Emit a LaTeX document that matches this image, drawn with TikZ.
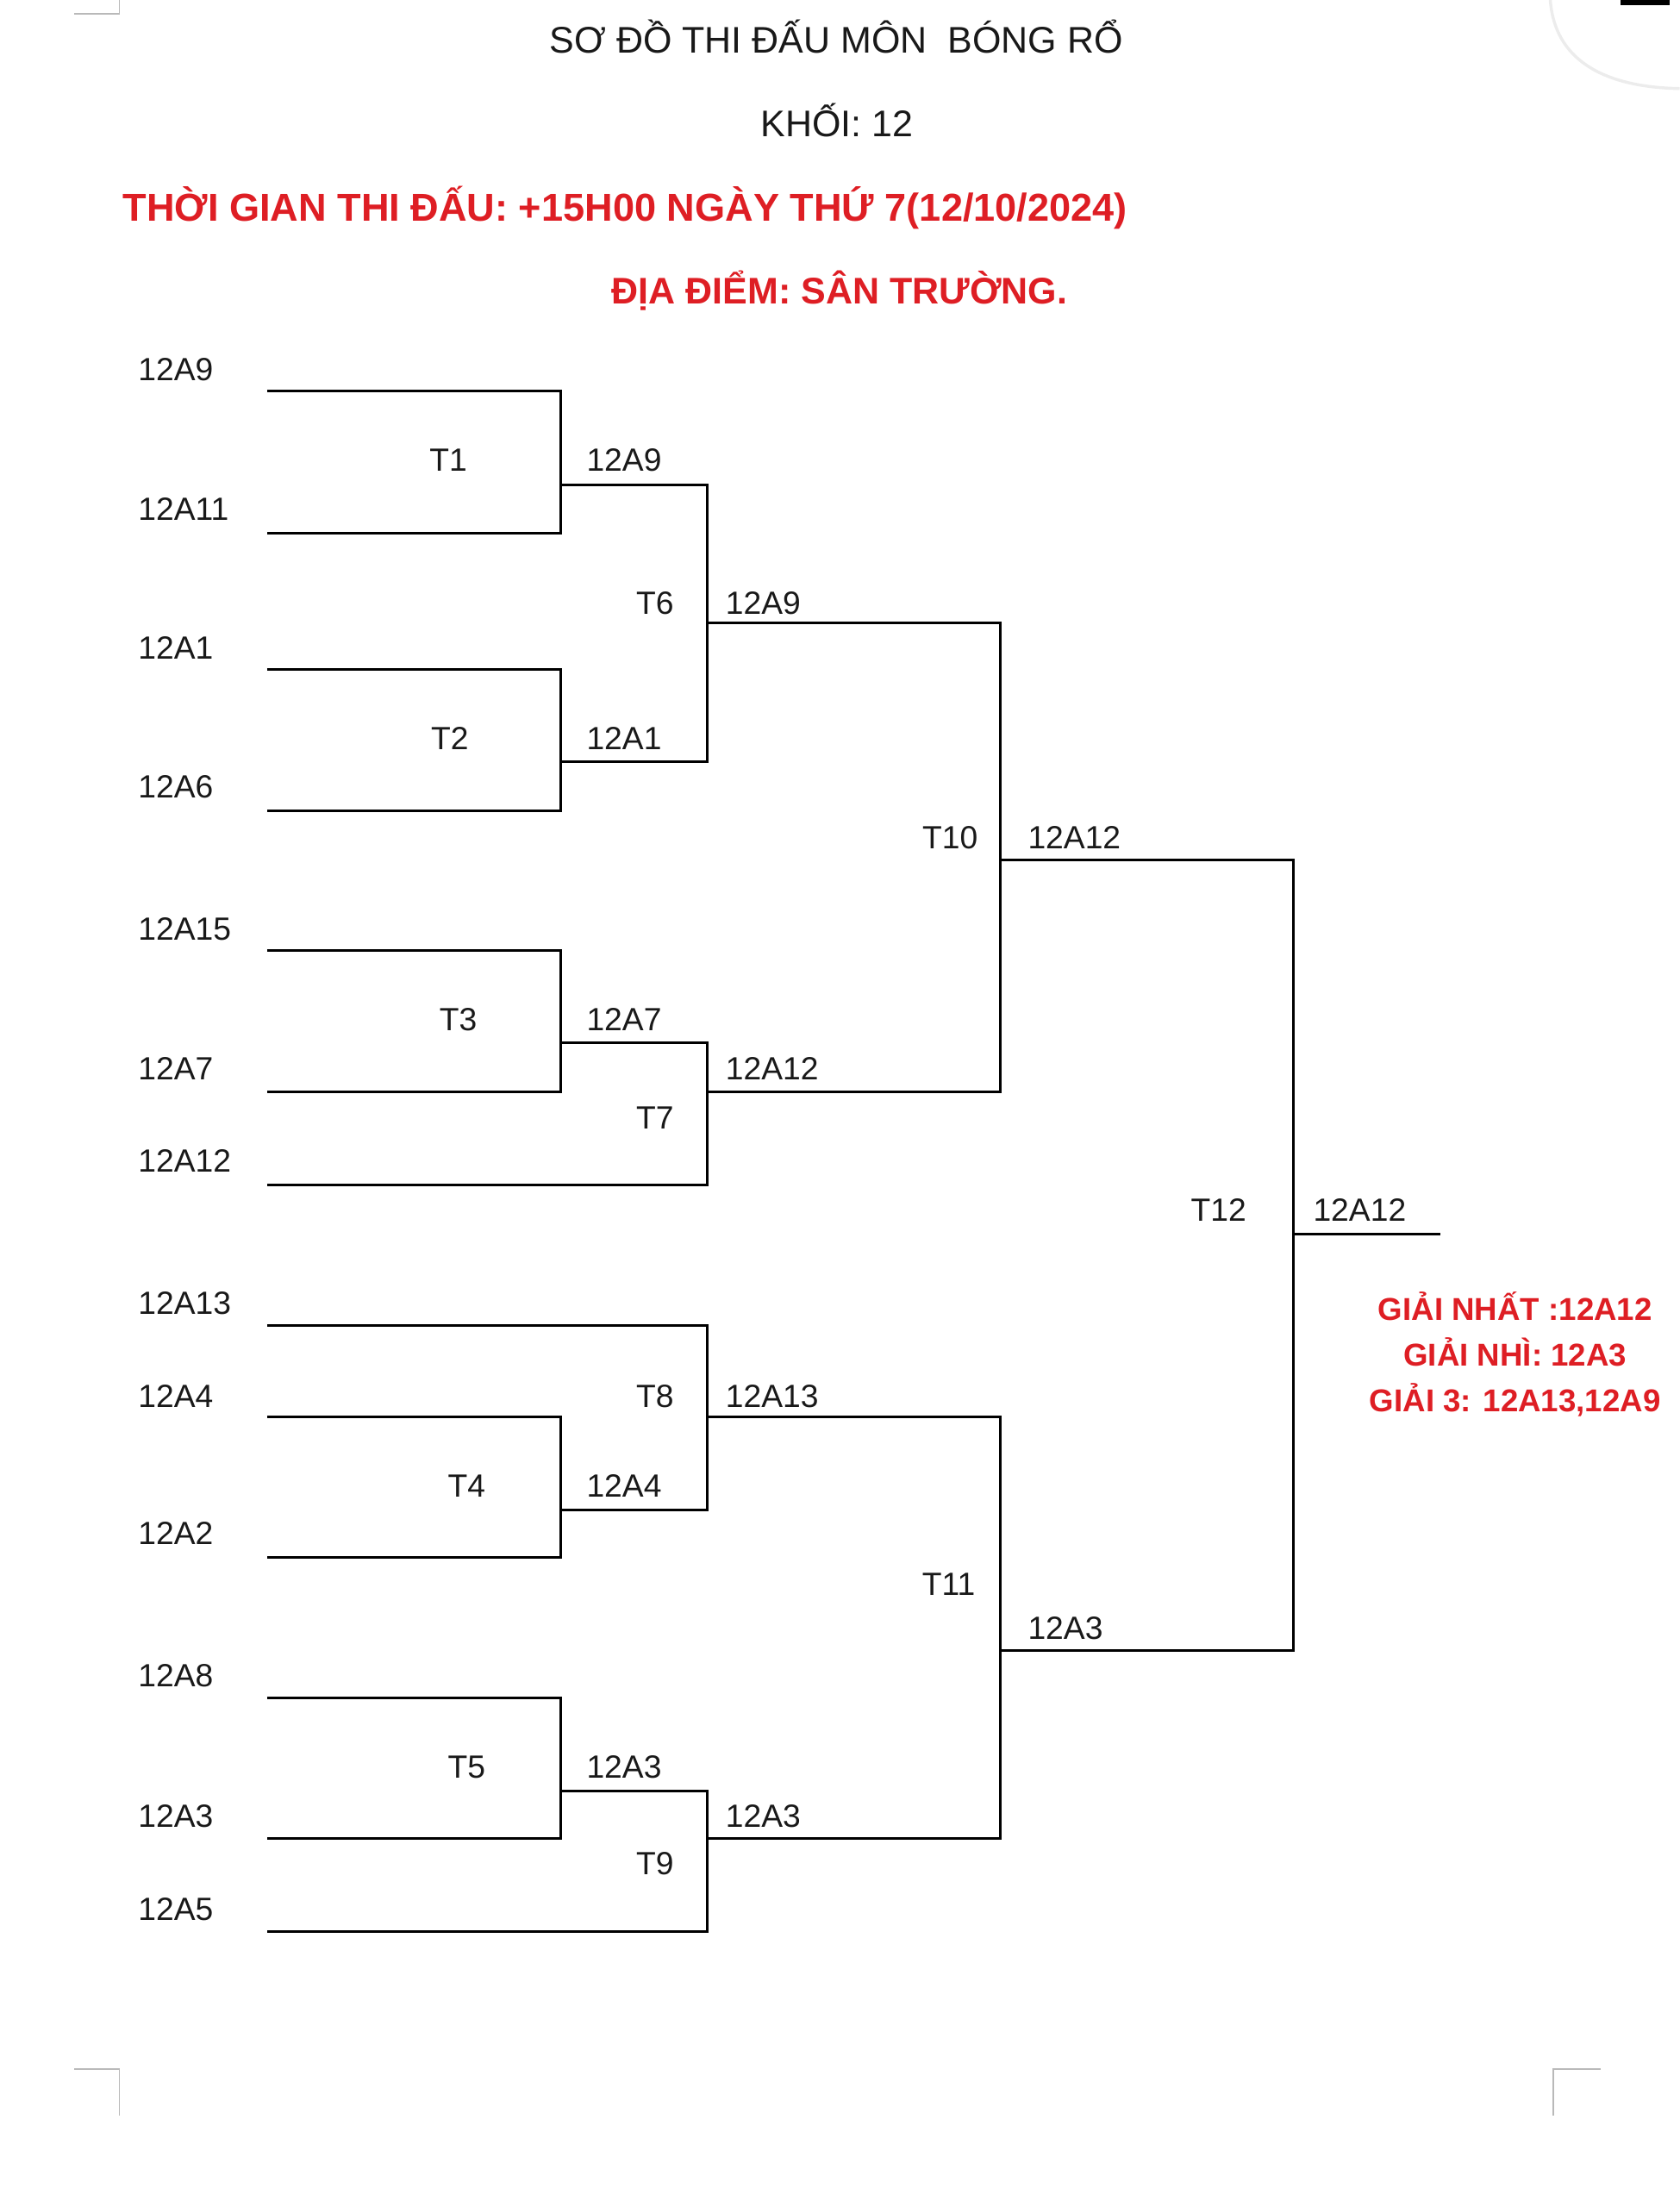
\documentclass[tikz,border=0pt]{standalone}
\usepackage{fontspec}
\setmainfont{Liberation Sans}
\usepackage{tikz}
\usetikzlibrary{positioning,calc}

\definecolor{redtxt}{RGB}{222,30,36}
\definecolor{inktxt}{RGB}{25,25,25}
\tikzset{
	txt/.style={inner sep=0pt,text=inktxt,font=\fontsize{13pt}{15pt}\selectfont},
	team/.style={txt,anchor=west},
	match/.style={txt},
	winner/.style={txt,anchor=west},
	prize/.style={txt,anchor=base,text=redtxt,font=\fontsize{12.8pt}{15pt}\selectfont\bfseries},
	bracket/.style={line width=1.05pt,black},
	cropmark/.style={line width=0.6pt,gray!55}
}

\begin{document}
\begin{tikzpicture}[x=0.02cm,y=-0.02cm]
		\useasboundingbox (0,0) rectangle (1195,1570);
		
		% page corners
		\draw[cropmark] (53,10) -- (85,10) -- (85,0);
		\draw[cropmark] (53,1472) -- (85,1472) -- (85,1505);
		\draw[cropmark] (1139,1472) -- (1105,1472) -- (1105,1505);
		\draw[gray!15,line width=1.2pt] (1103,0) .. controls (1106,42) and (1140,62) .. (1195,63);
		\fill[black] (1153,0) rectangle (1188,3.5);
		
		% heading
		\node[txt,anchor=base,font=\fontsize{15pt}{18pt}\selectfont] (title) at (595,38) {SƠ ĐỒ THI ĐẤU MÔN\ \ BÓNG RỔ};
		\node[txt,anchor=base,font=\fontsize{15pt}{18pt}\selectfont] (khoi) at (595.5,97) {KHỐI: 12};
		\node[txt,anchor=base west,text=redtxt,font=\fontsize{15.75pt}{18pt}\selectfont\bfseries] (time) at (87,157) {THỜI GIAN THI ĐẤU: +15H00 NGÀY THỨ 7(12/10/2024)};
		\node[txt,anchor=base west,text=redtxt,font=\fontsize{15pt}{18pt}\selectfont\bfseries] (place) at (435,216) {ĐỊA ĐIỂM: SÂN TRƯỜNG.};
		
		% teams
		\node[team] (n1) at (98,263) {12A9};
		\node[team] (n2) at (98,362) {12A11};
		\node[team] (n3) at (98,461) {12A1};
		\node[team] (n4) at (98,560) {12A6};
		\node[team] (n5) at (98,661) {12A15};
		\node[team] (n6) at (98,760) {12A7};
		\node[team] (n7) at (98,826) {12A12};
		\node[team] (n8) at (98,927) {12A13};
		\node[team] (n9) at (98,993) {12A4};
		\node[team] (n10) at (98,1091) {12A2};
		\node[team] (n11) at (98,1192) {12A8};
		\node[team] (n12) at (98,1292) {12A3};
		\node[team] (n13) at (98,1358) {12A5};
		
		% line starts
		\coordinate (s1) at (190,278);
		\coordinate (s2) at (190,379);
		\coordinate (s3) at (190,476);
		\coordinate (s4) at (190,577);
		\coordinate (s5) at (190,676);
		\coordinate (s6) at (190,777);
		\coordinate (s7) at (190,843);
		\coordinate (s8) at (190,943);
		\coordinate (s9) at (190,1008);
		\coordinate (s10) at (190,1108);
		\coordinate (s11) at (190,1208);
		\coordinate (s12) at (190,1308);
		\coordinate (s13) at (190,1374);
		
		% match outputs
		\coordinate (m1) at (399,345);
		\coordinate (m2) at (399,542);
		\coordinate (m3) at (399,742);
		\coordinate (m4) at (399,1074);
		\coordinate (m5) at (399,1274);
		\coordinate (m6) at (503,443);
		\coordinate (m7) at (503,777);
		\coordinate (m8) at (503,1008);
		\coordinate (m9) at (503,1308);
		\coordinate (m10) at (712,612);
		\coordinate (m11) at (712,1174);
		\coordinate (m12) at (920,878);
		\coordinate (champ) at (1025,878);
		
		% first round
		\draw[bracket] (s1) -- (s1 -| m1) -- (s2 -| m1) -- (s2);
		\draw[bracket] (s3) -- (s3 -| m2) -- (s4 -| m2) -- (s4);
		\draw[bracket] (s5) -- (s5 -| m3) -- (s6 -| m3) -- (s6);
		\draw[bracket] (s9) -- (s9 -| m4) -- (s10 -| m4) -- (s10);
		\draw[bracket] (s11) -- (s11 -| m5) -- (s12 -| m5) -- (s12);
		% second round
		\draw[bracket] (m1) -- (m1 -| m6) -- (m2 -| m6) -- (m2);
		\draw[bracket] (m3) -- (m3 -| m7) -- (s7 -| m7) -- (s7);
		\draw[bracket] (s8) -- (s8 -| m8) -- (m4 -| m8) -- (m4);
		\draw[bracket] (m5) -- (m5 -| m9) -- (s13 -| m9) -- (s13);
		% semi finals and final
		\draw[bracket] (m6) -- (m6 -| m10) -- (m7 -| m10) -- (m7);
		\draw[bracket] (m8) -- (m8 -| m11) -- (m9 -| m11) -- (m9);
		\draw[bracket] (m10) -- (m10 -| m12) -- (m11 -| m12) -- (m11);
		\draw[bracket] (m12) -- (champ);
		
		% match names
		\node[match] (t1) at (319,327) {T1};
		\node[match] (t2) at (320,525) {T2};
		\node[match] (t3) at (326,725) {T3};
		\node[match] (t4) at (332,1057) {T4};
		\node[match] (t5) at (332,1257) {T5};
		\node[match] (t6) at (466,429) {T6};
		\node[match] (t7) at (466,795) {T7};
		\node[match] (t8) at (466,993) {T8};
		\node[match] (t9) at (466,1326) {T9};
		\node[match] (t10) at (676,596) {T10};
		\node[match] (t11) at (675,1127) {T11};
		\node[match] (t12) at (867,861) {T12};
		
		% winners
		\node[winner] (w1) at (417,327) {12A9};
		\node[winner] (w2) at (417,525) {12A1};
		\node[winner] (w3) at (417,725) {12A7};
		\node[winner] (w4) at (417,1057) {12A4};
		\node[winner] (w5) at (417,1257) {12A3};
		\node[winner] (w6) at (516,429) {12A9};
		\node[winner] (w7) at (516,760) {12A12};
		\node[winner] (w8) at (516,993) {12A13};
		\node[winner] (w9) at (516,1292) {12A3};
		\node[winner] (w10) at (731,596) {12A12};
		\node[winner] (w11) at (731,1158) {12A3};
		\node[winner] (w12) at (934,861) {12A12};
		
		% prizes
		\node[prize] (p1) at (1078,939) {GIẢI NHẤT :12A12};
		\node[prize] (p2) at (1078,972) {GIẢI NHÌ: 12A3};
		\node[prize] (p3) at (1078,1004) {GIẢI 3: 12A13,12A9};
		
		\end{tikzpicture}
\end{document}
